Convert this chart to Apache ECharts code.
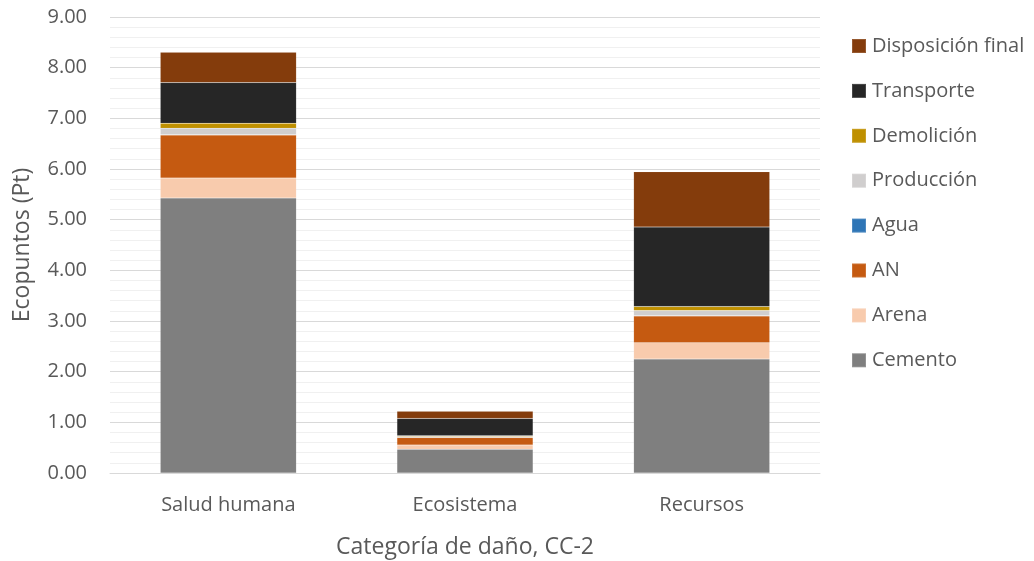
<!DOCTYPE html>
<html>
<head>
<meta charset="utf-8">
<script src="https://cdn.jsdelivr.net/npm/echarts@6/dist/echarts.min.js"></script>
<style>
  html, body { margin: 0; padding: 0; background: #fff; }
  #chart { width: 1034px; height: 561px; }
</style>
</head>
<body>
<div id="chart"></div>
<script>
// Categorías de daño
const categories = ['Salud humana', 'Ecosistema', 'Recursos'];

// Ecopuntos por etapa (Pt)
const cemento     = [5.43, 0.47, 2.25];
const arena       = [0.39, 0.085, 0.32];
const an          = [0.85, 0.145, 0.53];
const agua        = [0.005, 0.002, 0.005];
const produccion  = [0.13, 0.02, 0.10];
const demolicion  = [0.10, 0.015, 0.08];
const transporte  = [0.80, 0.34, 1.57];
const disposicion = [0.60, 0.14, 1.09];

const seriesDefs = [
  { name: 'Cemento', data: cemento, color: '#7F7F7F' },
  { name: 'Arena', data: arena, color: '#F8CBAD' },
  { name: 'AN', data: an, color: '#C55A11' },
  { name: 'Agua', data: agua, color: '#2E75B6' },
  { name: 'Producción', data: produccion, color: '#D0CECE' },
  { name: 'Demolición', data: demolicion, color: '#BF9000' },
  { name: 'Transporte', data: transporte, color: '#262626' },
  { name: 'Disposición final', data: disposicion, color: '#843C0C' }
];

const fontFamily = '"Open Sans", "Noto Sans", sans-serif';
const textColor = '#595959';
const chart = echarts.init(document.getElementById('chart'));

chart.setOption({
  animation: false,
  textStyle: { fontFamily: fontFamily },
  grid: { left: 110, right: 214, top: 17, bottom: 88, outerBoundsMode: 'none' },
  legend: {
    orient: 'vertical',
    left: 846,
    top: 31,
    itemWidth: 14,
    itemHeight: 14,
    itemGap: 24.9,
    icon: 'rect',
    textStyle: { fontSize: 20, lineHeight: 20, color: textColor, fontFamily: fontFamily, padding: [0, 0, 0, 1] },
    data: seriesDefs.map(s => s.name).reverse()
  },
  xAxis: {
    type: 'category',
    data: categories,
    name: 'Categoría de daño, CC-2',
    nameLocation: 'middle',
    nameGap: 63,
    nameTextStyle: { fontSize: 23, color: textColor },
    axisLine: { lineStyle: { color: '#D9D9D9' } },
    axisTick: { show: false },
    axisLabel: { fontSize: 20, color: textColor, margin: 22 }
  },
  yAxis: {
    type: 'value',
    min: 0,
    max: 9,
    interval: 1,
    name: 'Ecopuntos (Pt)',
    nameLocation: 'middle',
    nameGap: 76,
    nameTextStyle: { fontSize: 23, color: textColor },
    axisLine: { show: false },
    axisTick: { show: false },
    axisLabel: { fontSize: 20, color: textColor, margin: 23, formatter: v => v.toFixed(2) },
    splitLine: { lineStyle: { color: '#D9D9D9' } },
    minorTick: { show: false, splitNumber: 5 },
    minorSplitLine: { show: true, lineStyle: { color: '#F0F0F0' } }
  },
  series: seriesDefs.map(s => ({
    name: s.name,
    type: 'bar',
    stack: 'total',
    barWidth: '57.5%',
    data: s.data,
    itemStyle: { color: s.color, borderColor: 'rgba(255,255,255,0.15)', borderWidth: 0.5 }
  }))
});
</script>
</body>
</html>
